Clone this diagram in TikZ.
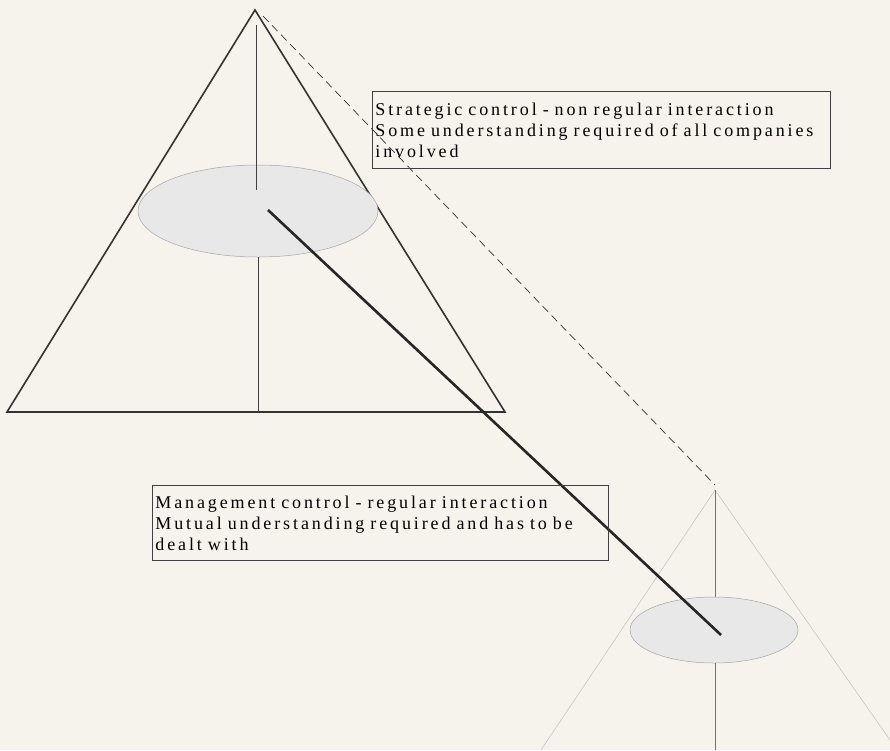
\documentclass[tikz,border=0pt]{standalone}
\usepackage{fontspec}
\setmainfont{Liberation Serif}[LetterSpace=16]
\definecolor{paper}{RGB}{246,243,236}
\begin{document}
\begin{tikzpicture}[x=1pt,y=-1pt,
    cone/.style={line width=1.6pt, draw=black!80},
    farcone/.style={line width=0.5pt, draw=black!25},
    axis/.style={line width=0.7pt, draw=black!75},
    disc/.style={fill=black!9, draw=black!35, line width=0.5pt},
    link/.style={line width=2.6pt, draw=black!85},
    sight/.style={line width=0.7pt, draw=black!80, dash pattern=on 8pt off 5pt},
    infobox/.style={draw=black!75, line width=0.9pt, anchor=north west, align=left,
        inner xsep=3pt, inner ysep=0pt, font=\fontsize{18}{21}\selectfont}]
    \fill[paper] (0,0) rectangle (890,750);
    \useasboundingbox (0,0) rectangle (890,750);
    % large cone
    \coordinate (topA) at (255,10);
    \coordinate (topL) at (7,412);
    \coordinate (topR) at (505,412);
    \coordinate (topC) at (258,211);
    \draw[cone] (topL) -- (topA) -- (topR) -- cycle;
    \filldraw[disc] (topC) ellipse (120 and 46);
    \draw[axis] (256,25) -- (256,190);
    \draw[axis] (258,257) -- (258,412);
    % small cone, cut by the page edge
    \coordinate (lowA) at (715,490);
    \coordinate (lowC) at (714,630);
    \begin{scope}
        \clip (0,0) rectangle (890,750);
        \draw[farcone] (541,750) -- (lowA) -- (897,750);
        \filldraw[disc] (lowC) ellipse (84 and 33);
        \draw[axis, draw=black!55] (lowA) -- (715,597);
        \draw[axis, draw=black!55] (715,663) -- (715,750);
    \end{scope}
    % links between the levels
    \coordinate (linkS) at (268,210);
    \coordinate (linkE) at (721,635);
    \coordinate (sightS) at (263,16);
    \coordinate (sightE) at (715,485);
    \draw[sight] (sightS) -- (sightE);
    \draw[link] (linkS) -- (linkE);
    % texts
    \node[infobox, text width=452pt, minimum height=77pt] (strategic) at (372,91)
        {Strategic control - non regular interaction\\Some understanding required of all companies\\involved};
    \node[infobox, text width=450pt, minimum height=75pt] (management) at (152,485)
        {Management control - regular interaction\\Mutual understanding required and has to be\\dealt with};
\end{tikzpicture}
\end{document}
